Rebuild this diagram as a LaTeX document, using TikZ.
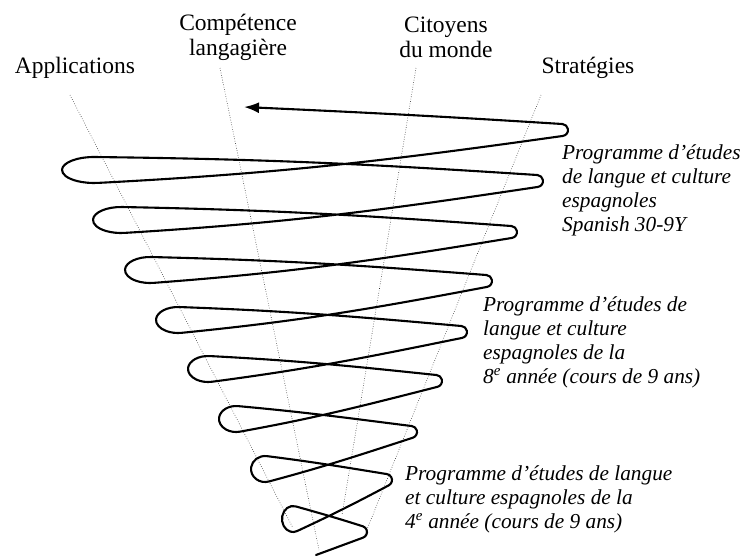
\documentclass[tikz,border=0pt]{standalone}
\usepackage{fontspec}
\setmainfont{Liberation Serif}
\usepackage{tikz}
\usetikzlibrary{arrows.meta}

\tikzset{
  spire/.style={line width=2.1pt, line cap=round, line join=round},
  axe/.style={line width=0.6pt, dash pattern=on 0.6pt off 1.8pt, black!80},
  titre/.style={inner sep=0pt, align=center, font=\fontsize{23.5}{25}\selectfont},
  prog/.style={inner sep=0pt, align=left, anchor=north west, font=\fontsize{21.3}{24}\selectfont\itshape},
}

\begin{document}
\begin{tikzpicture}[x=1pt, y=1pt]
  \useasboundingbox (0,0) rectangle (741,-555);

  % titres des axes
  \node [titre] (applications) at (75,-68) {Applications};
  \node [titre] (competence) at (238,-37.5) {Compétence\\langagière};
  \node [titre] (citoyens) at (446,-37.5) {Citoyens\\du monde};
  \node [titre] (strategies) at (588,-68) {Stratégies};

  % programmes
  \node [prog] (prog12) at (562,-144) {Programme d’études\\de langue et culture\\espagnoles\\Spanish 30-9Y};
  \node [prog] (prog8) at (483,-296) {Programme d’études de\\langue et culture\\espagnoles de la\\8\textsuperscript{e} année (cours de 9 ans)};
  \node [prog] (prog4) at (405,-465) {Programme d’études de langue\\et culture espagnoles de la\\4\textsuperscript{e} année (cours de 9 ans)};

  % axes en pointilles
  \coordinate (appH) at (70,-95);   \coordinate (appB) at (293,-528);
  \coordinate (compH) at (220,-68); \coordinate (compB) at (319,-550);
  \coordinate (citH) at (416,-68);  \coordinate (citB) at (342,-515);
  \coordinate (strH) at (541,-95);  \coordinate (strB) at (364,-537);
  \draw [axe] (appH) -- (appB);
  \draw [axe] (compH) -- (compB);
  \draw [axe] (citH) -- (citB);
  \draw [axe] (strH) -- (strB);

  % spirale
  \coordinate (debut) at (316,-555);
  \coordinate (fleche) at (244,-107);
  \draw [spire, -{Latex[length=15pt,width=11pt]}] (debut)
    -- ([shift={(-70:6pt)}]361,-532) arc[start angle=-70, end angle=72.4, radius=6pt]
    to[out=162.4, in=-15.6] ([shift={(76.7:11pt and 13pt)}]293,-519) arc[start angle=76.7, end angle=291.55, x radius=11pt, y radius=13pt]
    to[out=25, in=208] ([shift={(-62:6pt)}]386,-480) arc[start angle=-62, end angle=80.8, radius=6pt]
    to[out=170.8, in=-7.2] ([shift={(82.25:14pt and 13pt)}]265,-469) arc[start angle=82.25, end angle=286.1, x radius=14pt, y radius=13pt]
    to[out=15, in=198] ([shift={(-72:6pt)}]411,-432) arc[start angle=-72, end angle=82.8, radius=6pt]
    to[out=172.8, in=-5.2] ([shift={(83.24:17pt and 13pt)}]236,-419) arc[start angle=83.24, end angle=283.4, x radius=17pt, y radius=13pt]
    to[out=10.3, in=194.3] ([shift={(-75.7:6pt)}]436,-381) arc[start angle=-75.7, end angle=84, radius=6pt]
    to[out=174, in=-3] ([shift={(85.4:20pt and 13pt)}]208,-369) arc[start angle=85.4, end angle=281.45, x radius=20pt, y radius=13pt]
    to[out=7.5, in=191.5] ([shift={(-78.5:6pt)}]461,-332) arc[start angle=-78.5, end angle=84.9, radius=6pt]
    to[out=174.9, in=-2.1] ([shift={(86.45:22pt and 13pt)}]178,-320) arc[start angle=86.45, end angle=279.6, x radius=22pt, y radius=13pt]
    to[out=5.7, in=190.7] ([shift={(-79.3:6pt)}]486,-281) arc[start angle=-79.3, end angle=85.6, radius=6pt]
    to[out=175.6, in=-1.4] ([shift={(87.31:25pt and 13pt)}]150,-270) arc[start angle=87.31, end angle=278.23, x radius=25pt, y radius=13pt]
    to[out=4.3, in=189.3] ([shift={(-80.7:6pt)}]511,-232) arc[start angle=-80.7, end angle=85.9, radius=6pt]
    to[out=175.9, in=-1.1] ([shift={(87.63:28pt and 13pt)}]121,-220) arc[start angle=87.63, end angle=277.5, x radius=28pt, y radius=13pt]
    to[out=3.5, in=188.5] ([shift={(-81.5:6pt)}]537,-181) arc[start angle=-81.5, end angle=86.3, radius=6pt]
    to[out=176.3, in=-0.7] ([shift={(88.28:32pt and 13pt)}]94,-170) arc[start angle=88.28, end angle=277.35, x radius=32pt, y radius=13pt]
    to[out=3, in=188] ([shift={(-82:6pt)}]562,-130) arc[start angle=-82, end angle=86.4, radius=6pt]
    to[out=176.4, in=-2.6] (fleche);
\end{tikzpicture}
\end{document}
